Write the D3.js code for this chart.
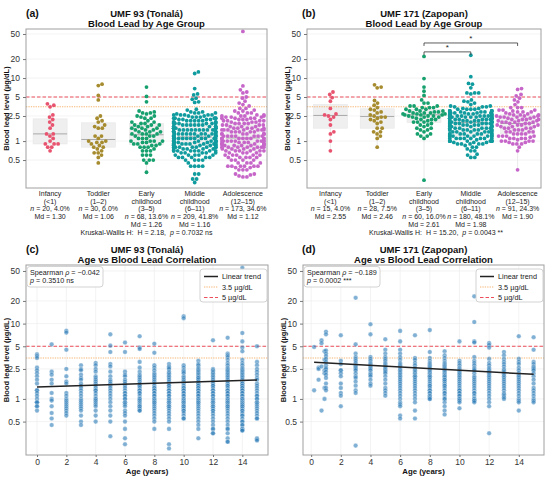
<!DOCTYPE html>
<html lang="en">
<head>
<meta charset="utf-8">
<title>Blood lead by age</title>
<script src="https://cdn.jsdelivr.net/npm/d3@7"></script>
<style>
  body { margin: 0; background: #fff; }
  text { font-family: "Liberation Sans", Arial, sans-serif; }
</style>
</head>
<body>
<svg id="fig" width="550" height="477"></svg>
<script>
// ---- data ----
const groupLines = [["Infancy", "(<1)"], ["Toddler", "(1–2)"], ["Early", "childhood", "(3–5)"],
                    ["Middle", "childhood", "(6–11)"], ["Adolescence", "(12–15)"]];
const groupColors = ["#e8546f", "#a68c2e", "#16a06e", "#109b9e", "#c766c9"];
const yTicks = [0.5, 1, 2.5, 5, 10, 20, 50];
const ageTicks = [0, 2, 4, 6, 8, 10, 12, 14];
const refLevels = [3.5, 5];

// UMF 93 (Tonalá): blood lead per age (years)
const agesA = [0, 1, 2, 3, 4, 5, 6, 7, 8, 9, 10, 11, 12, 13, 14, 15];
const valsA = [
  "3.9 3.7 3.5 2.6 2.4 2.2 2.0 1.8 1.6 1.3 1.3 1.2 1.1 1.0 0.9 0.9 0.9 0.8 0.8 0.7",
  "5.3 2.3 2.1 1.8 1.6 1.2 1.0 0.95 0.8 0.65 0.55 0.45",
  "8.0 7.6 4.5 2.5 2.0 1.7 1.6 1.2 1.1 1.0 0.95 0.9 0.85 0.8 0.75 0.7 0.65 0.6",
  "2.8 2.5 2.4 2.1 1.9 1.8 1.6 1.5 1.4 1.3 1.2 1.1 1.0 0.95 0.9 0.85 0.8 0.75 0.7 0.6 0.5 0.45",
  "3.0 2.8 2.5 2.3 2.0 1.9 1.8 1.7 1.6 1.5 1.4 1.3 1.3 1.2 1.1 1.0 1.0 0.95 0.9 0.85 0.8 0.7 0.6 0.5",
  "7.2 5.1 4.2 2.9 2.7 2.3 2.0 1.8 1.7 1.6 1.5 1.4 1.3 1.2 1.1 1.0 0.9 0.8 0.7 0.6 0.5 0.32",
  "5.6 4.2 2.3 2.1 2.0 1.8 1.7 1.6 1.5 1.4 1.3 1.2 1.2 1.1 1.1 1.0 1.0 0.9 0.9 0.85 0.8 0.7 0.65 0.6 0.5 0.4 0.3 0.25",
  "6.8 4.8 4.6 3.1 2.6 2.3 2.1 2.0 1.9 1.8 1.7 1.6 1.5 1.5 1.4 1.3 1.3 1.2 1.2 1.1 1.0 1.0 0.95 0.9 0.85 0.8 0.8 0.75 0.7 0.7",
  "5.4 4.1 2.8 2.6 2.4 2.2 2.1 2.0 1.9 1.8 1.7 1.6 1.5 1.4 1.4 1.3 1.3 1.2 1.2 1.1 1.1 1.0 1.0 0.95 0.9 0.9 0.85 0.8 0.75 0.7 0.65 0.6 0.55 0.5 0.4",
  "2.9 2.7 2.6 2.5 2.3 2.2 2.1 2.0 1.9 1.8 1.7 1.6 1.5 1.5 1.4 1.3 1.3 1.2 1.2 1.1 1.1 1.0 1.0 0.95 0.9 0.9 0.85 0.8 0.8 0.75 0.7 0.65 0.6 0.55 0.5 0.4 0.25 0.22",
  "12.5 11.8 2.8 2.6 2.4 2.3 2.2 2.0 1.9 1.8 1.7 1.6 1.5 1.4 1.4 1.3 1.3 1.2 1.2 1.1 1.1 1.0 1.0 0.95 0.9 0.9 0.85 0.8 0.8 0.75 0.7 0.7 0.65 0.6 0.55 0.55",
  "3.2 2.9 2.8 2.6 2.5 2.4 2.3 2.2 2.1 2.0 1.9 1.9 1.8 1.7 1.6 1.6 1.5 1.5 1.4 1.4 1.3 1.3 1.2 1.2 1.1 1.1 1.0 1.0 0.95 0.9 0.9 0.85 0.8 0.75 0.7 0.65 0.6 0.55 0.5 0.45 0.4 0.3",
  "6.0 2.5 2.4 2.3 2.2 2.1 2.0 1.9 1.8 1.7 1.6 1.5 1.5 1.4 1.3 1.3 1.2 1.2 1.1 1.1 1.0 1.0 0.95 0.9 0.9 0.85 0.8 0.8 0.75 0.7 0.7 0.65 0.6 0.55 0.5 0.45 0.4 0.4 0.35 0.35",
  "6.5 4.0 3.8 3.6 3.3 3.0 2.8 2.6 2.5 2.4 2.3 2.2 2.1 2.0 1.9 1.8 1.7 1.6 1.5 1.5 1.4 1.3 1.3 1.2 1.2 1.1 1.1 1.0 1.0 0.95 0.9 0.9 0.85 0.8 0.8 0.75 0.7 0.65 0.6 0.55 0.5 0.45 0.4 0.4 0.35 0.3 0.27 0.27",
  "55 7.5 5.8 4.8 4.3 3.3 3.0 2.8 2.6 2.5 2.4 2.3 2.2 2.1 2.0 1.9 1.8 1.7 1.6 1.6 1.5 1.5 1.4 1.4 1.3 1.3 1.2 1.2 1.1 1.1 1.0 1.0 1.0 0.95 0.9 0.9 0.85 0.85 0.8 0.8 0.75 0.7 0.7 0.65 0.6 0.6 0.55 0.5 0.5 0.45 0.45 0.4 0.4 0.38 0.38",
  "5.0 3.1 2.8 2.5 2.3 2.1 1.9 1.8 1.6 1.5 1.4 1.3 1.2 1.1 1.1 1.0 1.0 0.9 0.9 0.85 0.8 0.75 0.7 0.65 0.6 0.55 0.55 0.3 0.29 0.28"
];
const nA = [20, 30, 68, 209, 173];
const pctA = ["4.0", "6.0", "13.6", "41.8", "34.6"];
const mdA = ["1.30", "1.06", "1.26", "1.16", "1.12"];
const kwA = ["2.18", "0.7032 ns"];
const rhoA = ["−0.042", "0.3510 ns"];
const trendAgesA = [0, 15];
const trendValsA = [1.44, 1.78];

// UMF 171 (Zapopan)
const agesB = [0.2, 0.5, 0.7, 0.9, 1, 2, 3, 4, 5, 6, 7, 8, 9, 10, 11, 12, 13, 14, 15];
const valsB = [
  "4.9 1.3",
  "2.6 2.5 1.8",
  "6.0 5.5 2.7 0.7",
  "4.3 3.3 2.4 2.2 1.4 1.0",
  "7.8 7.2 4.4 4.0 3.7 3.4 3.1 2.8 2.6 2.5 2.3 2.1 1.9 1.6 1.4 1.3",
  "7.0 3.2 2.9 2.4 2.4 2.2 2.0 1.6 1.4 1.2 1.1 0.8",
  "22 5.3 4.0 3.6 3.4 3.2 3.0 2.8 2.7 2.6 2.5 2.4 2.2 2.0 1.9 1.7 1.5 1.3 1.2 0.24",
  "9.8 7.2 3.6 3.4 3.2 3.0 2.9 2.8 2.7 2.6 2.5 2.4 2.2 2.1 2.0 1.8 1.6 1.5",
  "6.2 4.5 4.0 3.6 3.4 3.2 3.0 2.9 2.8 2.7 2.6 2.5 2.4 2.3 2.2 2.0 1.8 1.6 1.4 1.3 1.2 1.1",
  "8.0 5.8 4.5 4.0 3.6 3.3 3.0 2.9 2.8 2.7 2.6 2.5 2.4 2.3 2.2 2.1 2.0 1.9 1.8 1.7 1.6 1.5 1.4 1.3 1.2 1.1 1.0 0.9 0.85 0.8 0.6 0.55",
  "7.0 3.5 3.3 3.0 2.8 2.6 2.5 2.4 2.3 2.2 2.1 2.0 2.0 1.9 1.8 1.7 1.6 1.5 1.4 1.3 1.2 1.1 1.0 0.9 0.7 0.55",
  "8.2 4.2 3.5 3.2 3.0 2.9 2.8 2.7 2.6 2.5 2.4 2.3 2.2 2.1 2.0 2.0 1.9 1.8 1.7 1.6 1.5 1.5 1.4 1.3 1.3 1.2 1.2 1.1 1.1 1.05 1.0 1.0",
  "4.3 3.8 3.5 3.2 3.0 2.9 2.8 2.7 2.6 2.5 2.4 2.3 2.2 2.1 2.0 2.0 1.9 1.8 1.8 1.7 1.6 1.5 1.5 1.4 1.3 1.2 1.2 1.1 1.0 1.0 0.9 0.8 0.7 0.62",
  "5.8 3.2 3.0 2.8 2.6 2.5 2.4 2.3 2.2 2.1 2.0 1.9 1.8 1.7 1.6 1.5 1.4 1.3 1.3 1.2 1.2 1.1 1.1 1.0 1.0 0.95 0.9 0.75",
  "23 10.5 5.8 5.6 3.6 3.2 3.0 2.8 2.6 2.5 2.4 2.2 2.0 1.9 1.8 1.7 1.6 1.5 1.4 1.3 1.2 1.2 1.1 1.0 1.0 0.95 0.95 0.9",
  "5.5 5.2 4.8 3.4 3.0 2.8 2.6 2.5 2.4 2.3 2.2 2.1 2.0 1.9 1.8 1.7 1.6 1.5 1.4 1.3 1.2 1.1 1.0 0.9 0.8 0.35",
  "4.2 3.8 3.4 3.1 2.9 2.7 2.5 2.4 2.3 2.2 2.1 2.0 1.9 1.8 1.7 1.6 1.5 1.4 1.3 1.2 1.15 1.1 1.05 1.0",
  "6.8 3.4 3.1 2.9 2.6 2.4 2.2 2.1 2.0 1.9 1.8 1.7 1.6 1.5 1.4 1.3 1.2 1.1 1.0 0.95 0.9 0.7",
  "6.6 4.5 3.1 2.9 2.7 2.6 2.5 2.4 2.2 2.0 1.8 1.6 1.4 1.3 1.2 1.1 1.0 0.95 0.9"
];
const nB = [15, 28, 60, 180, 91];
const pctB = ["4.0", "7.5", "16.0", "48.1", "24.3"];
const mdB = ["2.55", "2.46", "2.61", "1.98", "1.90"];
const kwB = ["15.20", "0.0043 **"];
const rhoB = ["−0.189", "0.0002 ***"];
const trendAgesB = [0.2, 15];
const trendValsB = [3.06, 2.12];
const bracketPairs = [[2, 3], [2, 4]];
const bracketLevels = [26, 36];
const bracketLabels = ["*", "*"];

// ---- drawing ----
const svg = d3.select("#fig");
svg.append("rect").attr("width", 550).attr("height", 477).attr("fill", "#fff");

function parseSite(ages, vals) {
  const pts = [];
  ages.forEach((a, i) => vals[i].trim().split(/\s+/).forEach(v => pts.push({ age: a, v: +v })));
  return pts;
}
function groupOf(age) {
  return age < 1 ? 0 : age <= 2 ? 1 : age <= 5 ? 2 : age <= 11 ? 3 : 4;
}

// simple beeswarm, points wider than maxW get clipped to the edge
function swarm(vals, cx, y, r, maxW) {
  const d = 2 * r + 0.2;
  const pts = vals.map(v => ({ v, py: y(v) })).sort((a, b) => b.py - a.py);
  const placed = [];
  pts.forEach(p => {
    const near = placed.filter(q => Math.abs(q.py - p.py) < d);
    const cands = [0];
    near.forEach(q => {
      const w = Math.sqrt(d * d - (q.py - p.py) ** 2);
      cands.push(q.dx + w, q.dx - w);
    });
    cands.sort((a, b) => Math.abs(a) - Math.abs(b));
    let dx = cands.find(c => near.every(q => (q.dx - c) ** 2 + (q.py - p.py) ** 2 >= d * d - 0.01));
    if (dx === undefined) dx = 0;
    p.dx = dx;
    p.px = cx + Math.max(-maxW, Math.min(maxW, dx));
    placed.push(p);
  });
  return pts;
}

function refLines(g, x0, x1, y) {
  g.append("line").attr("x1", x0).attr("x2", x1).attr("y1", y(refLevels[0])).attr("y2", y(refLevels[0]))
    .attr("stroke", "#f6b674").attr("stroke-width", 1.1).attr("stroke-dasharray", "1.3,1.1");
  g.append("line").attr("x1", x0).attr("x2", x1).attr("y1", y(refLevels[1])).attr("y2", y(refLevels[1]))
    .attr("stroke", "#ee4f5c").attr("stroke-width", 1).attr("stroke-dasharray", "3.5,2");
}

function styleAxis(a) {
  a.select(".domain").remove();
  a.selectAll(".tick line").attr("stroke", "#777");
  a.selectAll(".tick text").attr("fill", "#333").style("font-size", "8.5px");
}

function titles(o, line1, line2, letter) {
  const cx = (o.left + o.right) / 2;
  svg.append("text").attr("x", o.letterX).attr("y", o.top - 12).text(letter)
    .style("font-size", "10.5px").style("font-weight", "bold").attr("fill", "#111");
  svg.append("text").attr("x", cx).attr("y", o.top - 12).attr("text-anchor", "middle").text(line1)
    .style("font-size", "9.5px").style("font-weight", "bold").attr("fill", "#111");
  svg.append("text").attr("x", cx).attr("y", o.top - 2.5).attr("text-anchor", "middle").text(line2)
    .style("font-size", "9.5px").style("font-weight", "bold").attr("fill", "#111");
  svg.append("text").attr("transform", `translate(${o.left - 17},${(o.top + o.bottom) / 2}) rotate(-90)`)
    .attr("text-anchor", "middle").text("Blood lead level (µg/dL)")
    .style("font-size", "7.5px").style("font-weight", "bold").attr("fill", "#111");
}

function drawSwarm(o, pts, n, pct, md, kw) {
  const g = svg.append("g");
  const y = d3.scaleLog().domain([0.18, 60]).range([o.bottom, o.top]);
  const x = d3.scaleLinear().domain([-0.5, 4.5]).range([o.left, o.right]);

  yTicks.forEach(t => g.append("line").attr("x1", o.left).attr("x2", o.right)
    .attr("y1", y(t)).attr("y2", y(t)).attr("stroke", "#eeeeee").attr("stroke-width", 0.7));

  d3.range(5).forEach(i => {
    const vals = pts.filter(p => groupOf(p.age) === i).map(p => p.v).sort(d3.ascending);
    const q1 = d3.quantile(vals, 0.25), q3 = d3.quantile(vals, 0.75), iqr = q3 - q1;
    const lo = d3.min(vals.filter(v => v >= q1 - 1.5 * iqr)), hi = d3.max(vals.filter(v => v <= q3 + 1.5 * iqr));
    const cx = x(i), hw = 17;
    g.append("line").attr("x1", cx).attr("x2", cx).attr("y1", y(lo)).attr("y2", y(hi))
      .attr("stroke", "#e4e4e4").attr("stroke-width", 0.8);
    g.append("rect").attr("x", cx - hw).attr("width", 2 * hw).attr("y", y(q3)).attr("height", y(q1) - y(q3))
      .attr("fill", "#efefef").attr("stroke", "#e6e6e6").attr("stroke-width", 0.6);
    g.append("line").attr("x1", cx - hw).attr("x2", cx + hw).attr("y1", y(+md[i])).attr("y2", y(+md[i]))
      .attr("stroke", "#a8a8a8").attr("stroke-width", 1);
  });

  refLines(g, o.left, o.right, y);

  d3.range(5).forEach(i => {
    const vals = pts.filter(p => groupOf(p.age) === i).map(p => p.v);
    g.selectAll(null).data(swarm(vals, x(i), y, 1.9, 21)).join("circle")
      .attr("cx", d => d.px).attr("cy", d => d.py).attr("r", 1.9).attr("fill", groupColors[i]);
  });

  (o.brackets || []).forEach((pr, k) => {
    const yy = y(bracketLevels[k]);
    g.append("path").attr("d", `M${x(pr[0])},${yy + 3}V${yy}H${x(pr[1])}V${yy + 3}`)
      .attr("fill", "none").attr("stroke", "#333").attr("stroke-width", 0.8);
    g.append("text").attr("x", (x(pr[0]) + x(pr[1])) / 2).attr("y", yy - 1.5).attr("text-anchor", "middle")
      .text(bracketLabels[k]).style("font-size", "8px").attr("fill", "#222");
  });

  g.append("rect").attr("x", o.left).attr("y", o.top).attr("width", o.right - o.left)
    .attr("height", o.bottom - o.top).attr("fill", "none").attr("stroke", "#a0a0a0").attr("stroke-width", 1);

  const ay = g.append("g").attr("transform", `translate(${o.left},0)`)
    .call(d3.axisLeft(y).tickValues(yTicks).tickFormat(d => d).tickSize(3));
  styleAxis(ay);

  d3.range(5).forEach(i => {
    const t = g.append("text").attr("text-anchor", "middle").style("font-size", "7px").attr("fill", "#222");
    const lines = groupLines[i];
    let yy = o.bottom + 8;
    lines.forEach(l => { t.append("tspan").attr("x", x(i)).attr("y", yy).text(l); yy += 7.7; });
    const tn = t.append("tspan").attr("x", x(i)).attr("y", yy);
    tn.append("tspan").style("font-style", "italic").text("n");
    tn.append("tspan").text(` = ${n[i]}, ${pct[i]}%`);
    t.append("tspan").attr("x", x(i)).attr("y", yy + 7.7).text(`Md = ${md[i]}`);
  });

  const k = g.append("text").attr("x", o.kwX).attr("y", o.bottom + 47).attr("text-anchor", "middle")
    .style("font-size", "7px").style("white-space", "pre").attr("fill", "#222");
  k.append("tspan").text(`Kruskal-Wallis H:  H = ${kw[0]},  `);
  k.append("tspan").style("font-style", "italic").text("p");
  k.append("tspan").text(` = ${kw[1]}`);
}

function drawScatter(o, pts, rho, tAges, tVals) {
  const g = svg.append("g");
  const y = d3.scaleLog().domain([0.18, 60]).range([o.bottom, o.top]);
  const x = d3.scaleLinear().domain(o.xDom).range([o.left, o.right]);

  yTicks.forEach(t => g.append("line").attr("x1", o.left).attr("x2", o.right)
    .attr("y1", y(t)).attr("y2", y(t)).attr("stroke", "#eeeeee").attr("stroke-width", 0.7));
  ageTicks.forEach(t => g.append("line").attr("x1", x(t)).attr("x2", x(t))
    .attr("y1", o.top).attr("y2", o.bottom).attr("stroke", "#eeeeee").attr("stroke-width", 0.7));

  refLines(g, o.left, o.right, y);

  g.selectAll(null).data(pts).join("circle")
    .attr("cx", d => x(d.age)).attr("cy", d => y(d.v)).attr("r", 2.3)
    .attr("fill", "#2b7bb8").attr("fill-opacity", 0.6).attr("stroke", "#fff").attr("stroke-width", 0.3);

  g.append("path").datum(d3.zip(tAges, tVals))
    .attr("d", d3.line().x(d => x(d[0])).y(d => y(d[1])))
    .attr("fill", "none").attr("stroke", "#222").attr("stroke-width", 1.5);

  g.append("rect").attr("x", o.left).attr("y", o.top).attr("width", o.right - o.left)
    .attr("height", o.bottom - o.top).attr("fill", "none").attr("stroke", "#a0a0a0").attr("stroke-width", 1);

  styleAxis(g.append("g").attr("transform", `translate(${o.left},0)`)
    .call(d3.axisLeft(y).tickValues(yTicks).tickFormat(d => d).tickSize(3)));
  styleAxis(g.append("g").attr("transform", `translate(0,${o.bottom})`)
    .call(d3.axisBottom(x).tickValues(ageTicks).tickSize(2).tickPadding(1.5)));

  g.append("text").attr("x", (o.left + o.right) / 2).attr("y", o.bottom + 19).attr("text-anchor", "middle")
    .text("Age (years)").style("font-size", "7.8px").style("font-weight", "bold").attr("fill", "#111");

  // spearman box
  g.append("rect").attr("x", o.left + 1).attr("y", o.top + 1.5).attr("width", 76).attr("height", 20.5)
    .attr("rx", 3).attr("fill", "#fff").attr("fill-opacity", 0.9).attr("stroke", "#c8c8c8").attr("stroke-width", 0.8);
  const s1 = g.append("text").attr("x", o.left + 4).attr("y", o.top + 9.5).style("font-size", "7.2px").attr("fill", "#222");
  s1.append("tspan").text("Spearman ");
  s1.append("tspan").style("font-style", "italic").text("ρ");
  s1.append("tspan").text(` = ${rho[0]}`);
  const s2 = g.append("text").attr("x", o.left + 4).attr("y", o.top + 18).style("font-size", "7.2px").attr("fill", "#222");
  s2.append("tspan").style("font-style", "italic").text("p");
  s2.append("tspan").text(` = ${rho[1]}`);

  // legend
  const lx = o.right - 68, ly = o.top + 4;
  g.append("rect").attr("x", lx).attr("y", ly).attr("width", 67).attr("height", 33)
    .attr("rx", 3).attr("fill", "#fff").attr("fill-opacity", 0.9).attr("stroke", "#c8c8c8").attr("stroke-width", 0.8);
  const items = [
    ["Linear trend", "#222", 1.5, null],
    ["3.5 µg/dL", "#f6b674", 1.1, "1.3,1.1"],
    ["5 µg/dL", "#ee4f5c", 1, "3.5,2"]
  ];
  items.forEach((it, i) => {
    const yy = ly + 8 + i * 10.5;
    g.append("line").attr("x1", lx + 4).attr("x2", lx + 18).attr("y1", yy - 0.5).attr("y2", yy - 0.5)
      .attr("stroke", it[1]).attr("stroke-width", it[2]).attr("stroke-dasharray", it[3]);
    g.append("text").attr("x", lx + 22).attr("y", yy + 2.3).text(it[0]).style("font-size", "7.3px").attr("fill", "#222");
  });
}

const ptsA = parseSite(agesA, valsA);
const ptsB = parseSite(agesB, valsB);

const oa = { left: 26, right: 267, top: 29, bottom: 188, letterX: 26, kwX: 146.5 };
const ob = { left: 307, right: 541, top: 29, bottom: 188, letterX: 302, kwX: 436, brackets: bracketPairs };
const oc = { left: 26, right: 268, top: 265, bottom: 455, letterX: 26, xDom: [-0.75, 15.75] };
const od = { left: 303, right: 544, top: 265, bottom: 455, letterX: 302, xDom: [-0.55, 15.7] };

drawSwarm(oa, ptsA, nA, pctA, mdA, kwA);
drawSwarm(ob, ptsB, nB, pctB, mdB, kwB);
drawScatter(oc, ptsA, rhoA, trendAgesA, trendValsA);
drawScatter(od, ptsB, rhoB, trendAgesB, trendValsB);

titles(oa, "UMF 93 (Tonalá)", "Blood Lead by Age Group", "(a)");
titles(ob, "UMF 171 (Zapopan)", "Blood Lead by Age Group", "(b)");
titles(oc, "UMF 93 (Tonalá)", "Age vs Blood Lead Correlation", "(c)");
titles(od, "UMF 171 (Zapopan)", "Age vs Blood Lead Correlation", "(d)");
</script>
</body>
</html>
